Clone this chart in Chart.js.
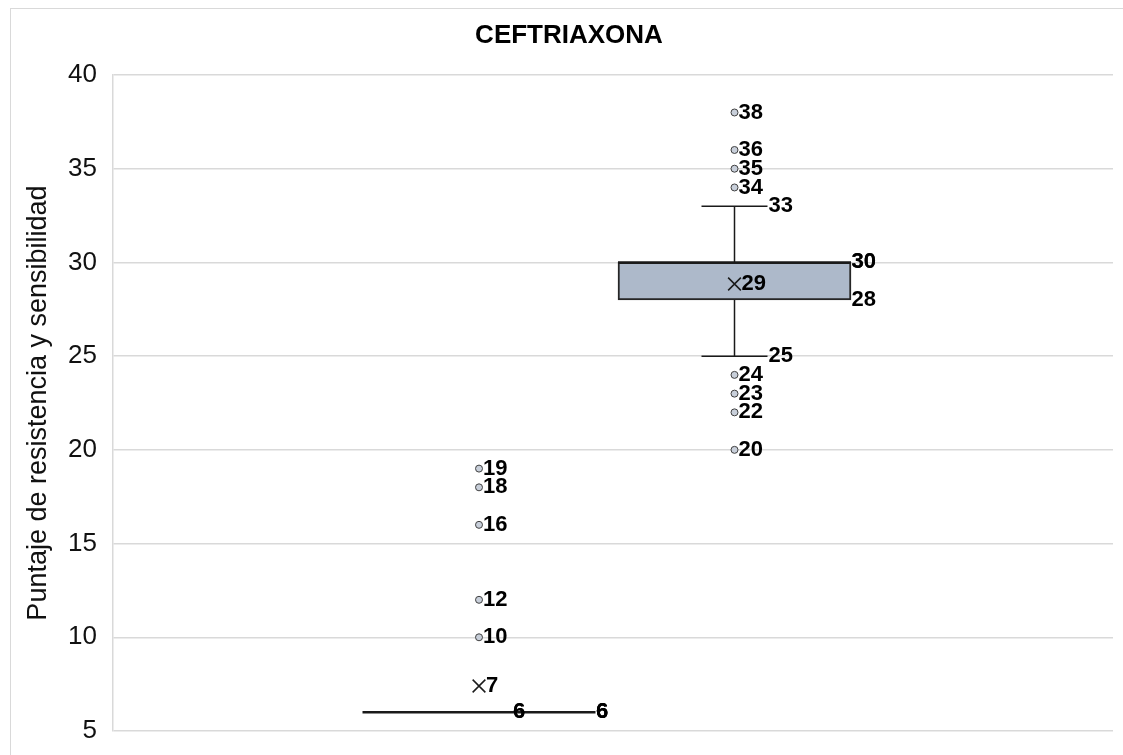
<!DOCTYPE html>
<html>
<head>
<meta charset="utf-8">
<script src="https://cdn.jsdelivr.net/npm/chart.js@4.4.1/dist/chart.umd.min.js"></script>
<style>
    html, body { margin: 0; padding: 0; background: #fff; overflow: hidden; }
    .frame { position: absolute; left: 10px; top: 8px; width: 1140px; height: 770px; border: 1.5px solid #d9d9d9; }
    .wrap { position: absolute; left: 0; top: 0; width: 1123px; height: 755px; }
</style>
</head>
<body>
<div class="frame"></div>
<div class="wrap"><canvas id="chart"></canvas></div>
<script>
// two boxes, placed at x = 1 and x = 2
const seriesPos = [1, 2];
const mins = [6, 25];
const q1s = [6, 28];
const medians = [6, 30];
const q3s = [6, 30];
const maxs = [6, 33];
const means = [7.4, 28.85];
const outliers = [
    [19, 18, 16, 12, 10],
    [38, 36, 35, 34, 24, 23, 22, 20]
];
const yMin = 5;
const yMax = 40;
const yStep = 5;

const fontFamily = '"Liberation Sans", Arial, Helvetica, sans-serif';
const ink = '#1a1a1a';

// draws the value next to each mark
const valueLabels = {
    id: 'valueLabels',
    afterDatasetsDraw(chart) {
        const ctx = chart.ctx;
        ctx.save();
        ctx.font = 'bold 22px ' + fontFamily;
        ctx.fillStyle = '#000';
        ctx.textBaseline = 'middle';
        ctx.textAlign = 'left';
        chart.data.datasets.forEach((ds, i) => {
            if (ds.labelDx === undefined) return;
            chart.getDatasetMeta(i).data.forEach((el, j) => {
                ctx.fillText(String(Math.round(ds.data[j].y)), el.x + ds.labelDx, el.y);
            });
        });
        ctx.restore();
    }
};

const datasets = [];

// boxes (q1..q3)
datasets.push({
    type: 'bar',
    data: seriesPos.map((x, i) => ({ x: x, y: [q1s[i], q3s[i]] })),
    backgroundColor: '#adb9ca',
    borderColor: '#262626',
    borderWidth: 2,
    borderSkipped: false,
    barThickness: 233,
    order: 3
});

// whisker stems
seriesPos.forEach((x, i) => {
    datasets.push({
        type: 'scatter',
        showLine: true,
        data: [{ x: x, y: mins[i] }, { x: x, y: maxs[i] }],
        borderColor: ink,
        borderWidth: 1.5,
        pointRadius: 0,
        order: 5
    });
});

// whisker caps
datasets.push({
    type: 'scatter',
    data: seriesPos.flatMap((x, i) => [{ x: x, y: maxs[i] }, { x: x, y: mins[i] }]),
    pointStyle: 'line',
    pointRadius: 33,
    borderColor: ink,
    borderWidth: 1.5,
    labelDx: 34,
    order: 2
});

// medians
datasets.push({
    type: 'scatter',
    data: seriesPos.map((x, i) => ({ x: x, y: medians[i] })),
    pointStyle: 'line',
    pointRadius: 116.5,
    borderColor: ink,
    borderWidth: 2.5,
    order: 1
});

// quartile labels on the right side of the box
datasets.push({
    type: 'scatter',
    data: seriesPos.flatMap((x, i) => [{ x: x, y: q3s[i] }, { x: x, y: medians[i] }, { x: x, y: q1s[i] }]),
    pointRadius: 0,
    labelDx: 117,
    order: 1
});

// means
datasets.push({
    type: 'scatter',
    data: seriesPos.map((x, i) => ({ x: x, y: means[i] })),
    pointStyle: 'crossRot',
    pointRadius: 9,
    borderColor: ink,
    borderWidth: 1.5,
    labelDx: 7,
    order: 0
});

// outliers
datasets.push({
    type: 'scatter',
    data: seriesPos.flatMap((x, i) => outliers[i].map(v => ({ x: x, y: v }))),
    pointStyle: 'circle',
    pointRadius: 3.5,
    backgroundColor: '#c8cfda',
    borderColor: '#404040',
    borderWidth: 1,
    labelDx: 4,
    order: 0
});

new Chart(document.getElementById('chart'), {
    type: 'scatter',
    data: { datasets: datasets },
    options: {
        responsive: true,
        maintainAspectRatio: false,
        animation: false,
        events: [],
        layout: { autoPadding: false, padding: { left: 25, right: 10, top: 0, bottom: 24 } },
        plugins: {
            legend: { display: false },
            tooltip: { enabled: false },
            title: {
                display: true,
                text: 'CEFTRIAXONA',
                color: '#000',
                font: { family: fontFamily, size: 26, weight: 'bold', lineHeight: 1.2 },
                padding: { top: 20, bottom: 23.8 }
            }
        },
        scales: {
            x: {
                type: 'linear',
                display: false,
                offset: false,
                min: -0.4325,
                max: 3.4814
            },
            y: {
                min: yMin,
                max: yMax,
                afterFit: (scale) => {
                    scale.width = 88;
                    scale.paddingTop = 0;
                    scale.paddingBottom = 0;
                },
                ticks: {
                    stepSize: yStep,
                    color: '#111',
                    padding: 16,
                    font: { family: fontFamily, size: 26 }
                },
                grid: { color: '#d9d9d9', lineWidth: 1.5, drawTicks: false },
                border: { display: true, color: '#d9d9d9', width: 1.5 },
                title: {
                    display: true,
                    text: 'Puntaje de resistencia y sensibilidad',
                    color: '#111',
                    font: { family: fontFamily, size: 27, lineHeight: 1.0 },
                    padding: { top: 0, bottom: 0 }
                }
            }
        }
    },
    plugins: [valueLabels]
});
</script>
</body>
</html>
